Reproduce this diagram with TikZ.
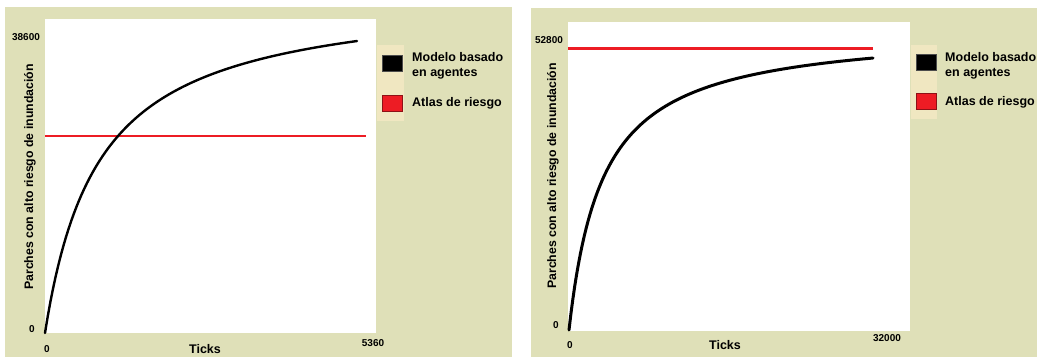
\documentclass[tikz,border=0pt]{standalone}
\usepackage{fontspec}
\setmainfont{Liberation Sans}
\definecolor{panelbg}{RGB}{223,224,184}
\definecolor{legendbg}{RGB}{240,231,193}
\definecolor{riskred}{RGB}{237,28,36}
\tikzset{%
    ticklbl/.style={font=\fontsize{10}{11}\selectfont\bfseries, inner sep=0pt},
    axislbl/.style={font=\fontsize{12.5}{14}\selectfont\bfseries, inner sep=0pt},
    ylbl/.style={font=\fontsize{12.3}{14}\selectfont\bfseries, inner sep=0pt, rotate=90},
    legtxt/.style={font=\fontsize{12.5}{15}\selectfont\bfseries, inner sep=0pt, anchor=west, align=left},
    swatch/.style={draw=black!70, line width=0.6pt, minimum width=20pt, minimum height=16pt, inner sep=0pt}
}

\begin{document}
\begin{tikzpicture}[x=1pt,y=-1pt]
\useasboundingbox (0,0) rectangle (1037,358);

% left panel
\fill[panelbg] (5,7) rectangle (512,357);
\fill[white] (45,19) rectangle (376,333);
\fill[legendbg] (377,45) rectangle (404,121);

\draw[riskred,line width=1.6pt] (45,136) -- (366,136);
\draw[black,line width=2.4pt,line cap=round] plot[domain=0:312,samples=120] ({45+\x},{333-342.4*(\x/(53.9+\x))});

\node[ticklbl] (ymaxA) at (26,37) {38600};
\node[ticklbl] (yminA) at (32,329) {0};
\node[ticklbl] (xminA) at (47,349) {0};
\node[ticklbl] (xmaxA) at (373,343) {5360};
\node[axislbl] (xlblA) at (205,349) {Ticks};
\node[ylbl] (ylblA) at (30,177) {Parches con alto riesgo de inundación};

\node[swatch,fill=black] (swABM) at (392,63.5) {};
\node[swatch,fill=riskred,draw=riskred!60!black] (swAtlas) at (392,103) {};
\node[legtxt] (txtABM) at (412,66) {Modelo basado\\en agentes};
\node[legtxt] (txtAtlas) at (412,103) {Atlas de riesgo};

% right panel
\fill[panelbg] (531,8) rectangle (1037,357);
\fill[white] (568,22) rectangle (910,331);
\fill[legendbg] (911,45) rectangle (937,119);

\draw[riskred,line width=3pt] (568,49) -- (873,49);
\draw[black,line width=3pt,line cap=round] plot[domain=0:304,samples=160] ({569+\x},{330-302.2*(\x/(33.8+\x))});

\node[ticklbl] (ymaxB) at (549,40) {52800};
\node[ticklbl] (yminB) at (556,325) {0};
\node[ticklbl] (xminB) at (570,345) {0};
\node[ticklbl] (xmaxB) at (887,338) {32000};
\node[axislbl] (xlblB) at (725,345) {Ticks};
\node[ylbl] (ylblB) at (553,176) {Parches con alto riesgo de inundación};

\node[swatch,fill=black] (swABM2) at (926,62.5) {};
\node[swatch,fill=riskred,draw=riskred!60!black] (swAtlas2) at (926,101.5) {};
\node[legtxt] (txtABM2) at (945,66) {Modelo basado\\en agentes};
\node[legtxt] (txtAtlas2) at (945,102) {Atlas de riesgo};
\end{tikzpicture}
\end{document}
